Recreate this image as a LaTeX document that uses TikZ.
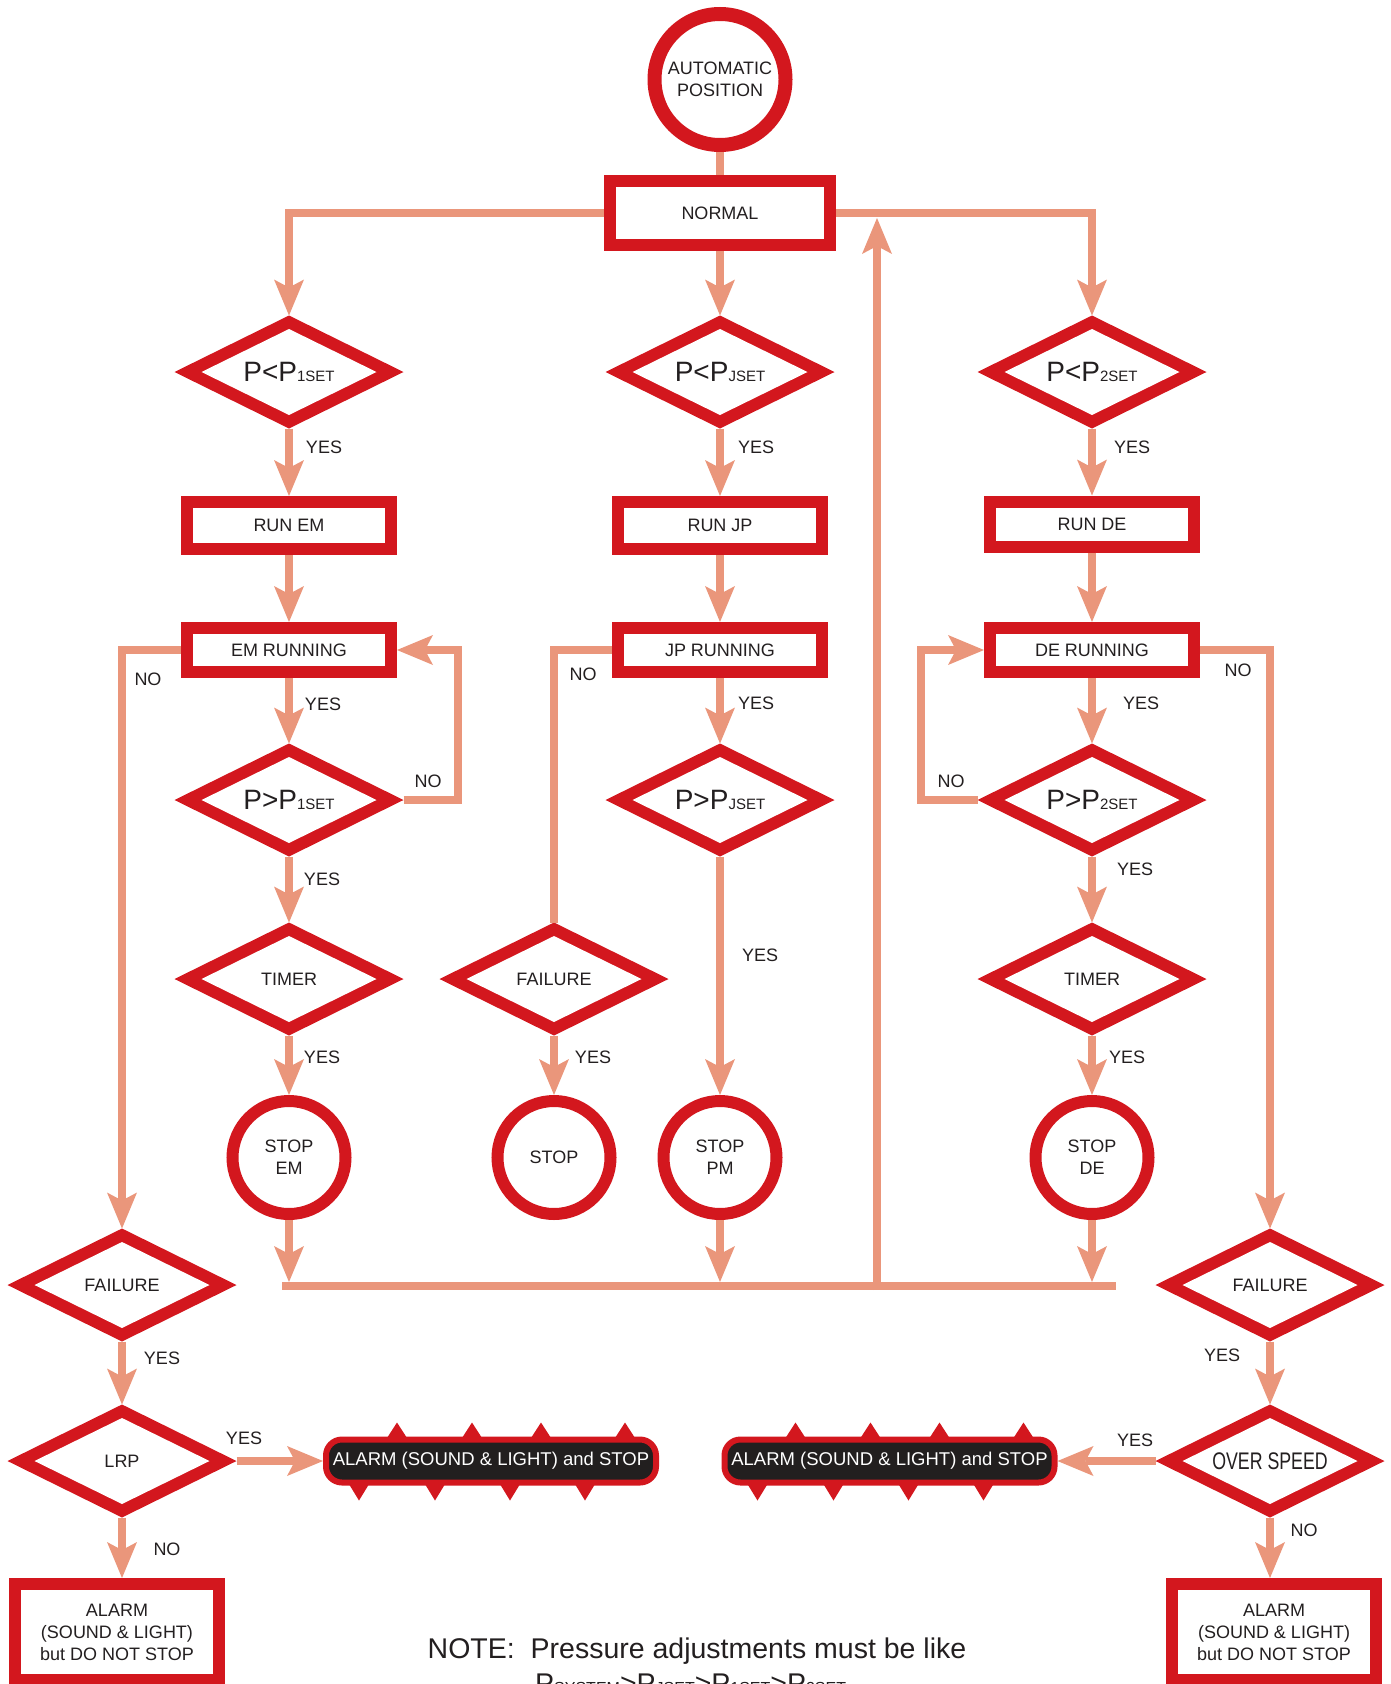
\documentclass[tikz,border=0pt]{standalone}
\usepackage{fontspec}
\setmainfont{Liberation Sans}
\newfontfamily\condfont[FakeStretch=0.74]{Liberation Sans}
\usetikzlibrary{shapes.geometric,arrows.meta}
\definecolor{rd}{HTML}{D3171E}
\definecolor{sal}{HTML}{EA967B}
\definecolor{txt}{HTML}{231F20}
\definecolor{blk}{HTML}{221F1F}
\newcommand\pset[2]{{\fontsize{28}{30}\selectfont P#1P}{\fontsize{15}{18}\selectfont #2}}
\newcommand\sm[1]{{\fontsize{16}{18}\selectfont #1}}
\begin{document}
\begin{tikzpicture}[x=1pt,y=-1pt,
  every node/.style={text=txt, font=\fontsize{18}{22}\selectfont},
  box/.style={rectangle, draw=rd, fill=white, line width=12pt, inner sep=0pt, outer sep=6pt, minimum width=204pt, align=center},
  circ/.style={circle, draw=rd, fill=white, line width=12pt, inner sep=0pt, outer sep=6pt, minimum size=113pt, align=center},
  dia/.style={diamond, aspect=2, fill=rd, minimum width=229pt, minimum height=113pt, inner sep=0pt, outer sep=0pt,
    path picture={\fill[white] ([xshift=-87.5pt]path picture bounding box.center) -- ([yshift=43pt]path picture bounding box.center) -- ([xshift=87.5pt]path picture bounding box.center) -- ([yshift=-43pt]path picture bounding box.center) -- cycle;}},
  alarm/.style={rectangle, rounded corners=16pt, draw=rd, line width=6pt, fill=blk, text=white, inner sep=0pt, outer sep=3pt, minimum width=330pt, minimum height=43pt, font=\fontsize{18.5}{22}\selectfont},
  lbl/.style={inner sep=0pt},
  line/.style={draw=sal, line width=8pt},
  conn/.style={line, -{Stealth[length=36pt,width=30pt,inset=8pt,line width=0pt]}},
  spike/.style={fill=rd}
]
\useasboundingbox (0,0) rectangle (1391,1684);

% ---------- nodes ----------
\node[circ, line width=14pt, outer sep=7pt, minimum size=131pt] (auto) at (720,79.5) {AUTOMATIC\\POSITION};
\node[box, minimum width=220pt, minimum height=64pt] (normal) at (720,213) {NORMAL};

\node[dia] (p1a) at (289,372) {\pset{<}{1SET}};
\node[box, minimum height=47pt] (runem) at (289,525.5) {RUN EM};
\node[box, minimum height=44pt] (emrun) at (289,650) {EM RUNNING};
\node[dia] (p1b) at (289,800) {\pset{>}{1SET}};
\node[dia] (tim1) at (289,979) {TIMER};
\node[circ] (stopem) at (289,1157.5) {STOP\\EM};

\node[dia] (pja) at (720,372) {\pset{<}{JSET}};
\node[box, minimum height=47pt] (runjp) at (720,525.5) {RUN JP};
\node[box, minimum height=44pt] (jprun) at (720,650) {JP RUNNING};
\node[dia] (pjb) at (720,800) {\pset{>}{JSET}};
\node[circ] (stoppm) at (720,1157.5) {STOP\\PM};
\node[dia] (fail2) at (554,979) {FAILURE};
\node[circ] (stop2) at (554,1157.5) {STOP};

\node[dia] (p3a) at (1092,372) {\pset{<}{2SET}};
\node[box, minimum height=45pt] (runde) at (1092,524) {RUN DE};
\node[box, minimum height=44pt] (derun) at (1092,650) {DE RUNNING};
\node[dia] (p3b) at (1092,800) {\pset{>}{2SET}};
\node[dia] (tim3) at (1092,979) {TIMER};
\node[circ] (stopde) at (1092,1157.5) {STOP\\DE};

\node[dia] (fail1) at (122,1285) {FAILURE};
\node[dia] (lrp) at (122,1461) {LRP};
\node[box, minimum height=96pt] (bx1) at (117,1632) {ALARM\\(SOUND \& LIGHT)\\but DO NOT STOP};

\node[dia] (fail3) at (1270,1285) {FAILURE};
\node[dia] (over) at (1270,1461) {\fontsize{24}{26}\condfont OVER SPEED};
\node[box, minimum height=96pt] (bx3) at (1274,1632) {ALARM\\(SOUND \& LIGHT)\\but DO NOT STOP};

\node[alarm] (al1) at (491,1461) {ALARM (SOUND \& LIGHT) and STOP};
\node[alarm] (al2) at (889.5,1461) {ALARM (SOUND \& LIGHT) and STOP};

% spikes on alarm boxes
\foreach \a in {al1,al2}{
  \foreach \dx in {74,149,218,302}{
    \fill[spike] ([xshift=\dx pt-11pt,yshift=-3pt]\a.north west) -- ([xshift=\dx pt,yshift=14pt]\a.north west) -- ([xshift=\dx pt+11pt,yshift=-3pt]\a.north west) -- cycle;}
  \foreach \dx in {36,112,187,262}{
    \fill[spike] ([xshift=\dx pt-11pt,yshift=3pt]\a.south west) -- ([xshift=\dx pt,yshift=-15pt]\a.south west) -- ([xshift=\dx pt+11pt,yshift=3pt]\a.south west) -- cycle;}
}

% ---------- connectors ----------
\draw[line] (auto) -- (normal);
\draw[conn] (normal.west) -| (p1a.north);
\draw[conn] (normal.south) -- (pja.north);
\draw[conn] (normal.east) -| (p3a.north);

\draw[conn] (p1a.south) -- (runem.north);
\draw[conn] (runem.south) -- (emrun.north);
\draw[conn] (emrun.south) -- (p1b.north);
\draw[conn] (p1b.south) -- (tim1.north);
\draw[conn] (tim1.south) -- (stopem.north);
\draw[conn] (p1b.east) -- ++(54,0) |- (emrun.east);
\draw[conn] (emrun.west) -| (fail1.north);

\draw[conn] (pja.south) -- (runjp.north);
\draw[conn] (runjp.south) -- (jprun.north);
\draw[conn] (jprun.south) -- (pjb.north);
\draw[conn] (pjb.south) -- (stoppm.north);
\draw[line] (jprun.west) -| (fail2.north);
\draw[conn] (fail2.south) -- (stop2.north);

\draw[conn] (p3a.south) -- (runde.north);
\draw[conn] (runde.south) -- (derun.north);
\draw[conn] (derun.south) -- (p3b.north);
\draw[conn] (p3b.south) -- (tim3.north);
\draw[conn] (tim3.south) -- (stopde.north);
\draw[conn] (p3b.west) -- ++(-57,0) |- (derun.west);
\draw[conn] (derun.east) -| (fail3.north);

\coordinate (bl) at (282,1286);
\coordinate (br) at (1116,1286);
\coordinate (bt) at (0,1282);
\draw[line] (bl) -- (br);
\draw[conn] (stopem.south) -- (stopem.south |- bt);
\draw[conn] (stoppm.south) -- (stoppm.south |- bt);
\draw[conn] (stopde.south) -- (stopde.south |- bt);
\coordinate (ret0) at (877,1290);
\coordinate (ret1) at (877,218);
\draw[conn] (ret0) -- (ret1);

\draw[conn] (fail1.south) -- (lrp.north);
\draw[conn] (lrp.east) -- (al1.west);
\draw[conn] (lrp.south) -- (lrp.south |- bx1.north);
\draw[conn] (fail3.south) -- (over.north);
\draw[conn] (over.west) -- (al2.east);
\draw[conn] (over.south) -- (over.south |- bx3.north);

% ---------- labels ----------
\node[lbl] (y1) at (324,447) {YES};
\node[lbl] (y2) at (323,704) {YES};
\node[lbl] (y3) at (322,879) {YES};
\node[lbl] (y4) at (322,1057) {YES};
\node[lbl] (n1) at (148,679) {NO};
\node[lbl] (n2) at (428,781) {NO};

\node[lbl] (y5) at (756,447) {YES};
\node[lbl] (y6) at (756,703) {YES};
\node[lbl] (y7) at (760,955) {YES};
\node[lbl] (y8) at (593,1057) {YES};
\node[lbl] (n3) at (583,674) {NO};

\node[lbl] (y9) at (1132,447) {YES};
\node[lbl] (y10) at (1141,703.5) {YES};
\node[lbl] (y11) at (1135,869) {YES};
\node[lbl] (y12) at (1127,1057) {YES};
\node[lbl] (n4) at (1238,670) {NO};
\node[lbl] (n5) at (951,781) {NO};

\node[lbl] (y13) at (162,1358) {YES};
\node[lbl] (y14) at (244,1438) {YES};
\node[lbl] (n6) at (167,1549) {NO};
\node[lbl] (y15) at (1222,1355) {YES};
\node[lbl] (y16) at (1135,1440) {YES};
\node[lbl] (n7) at (1304,1530) {NO};

\node[lbl, anchor=base, font=\fontsize{28.5}{34}\selectfont] (note) at (697,1658) {NOTE:\ \ Pressure adjustments must be like};
\node[lbl, anchor=base west, font=\fontsize{28.5}{34}\selectfont] (note2) at (535,1693) {P\sm{SYSTEM}>P\sm{JSET}>P\sm{1SET}>P\sm{2SET}};
\end{tikzpicture}
\end{document}
